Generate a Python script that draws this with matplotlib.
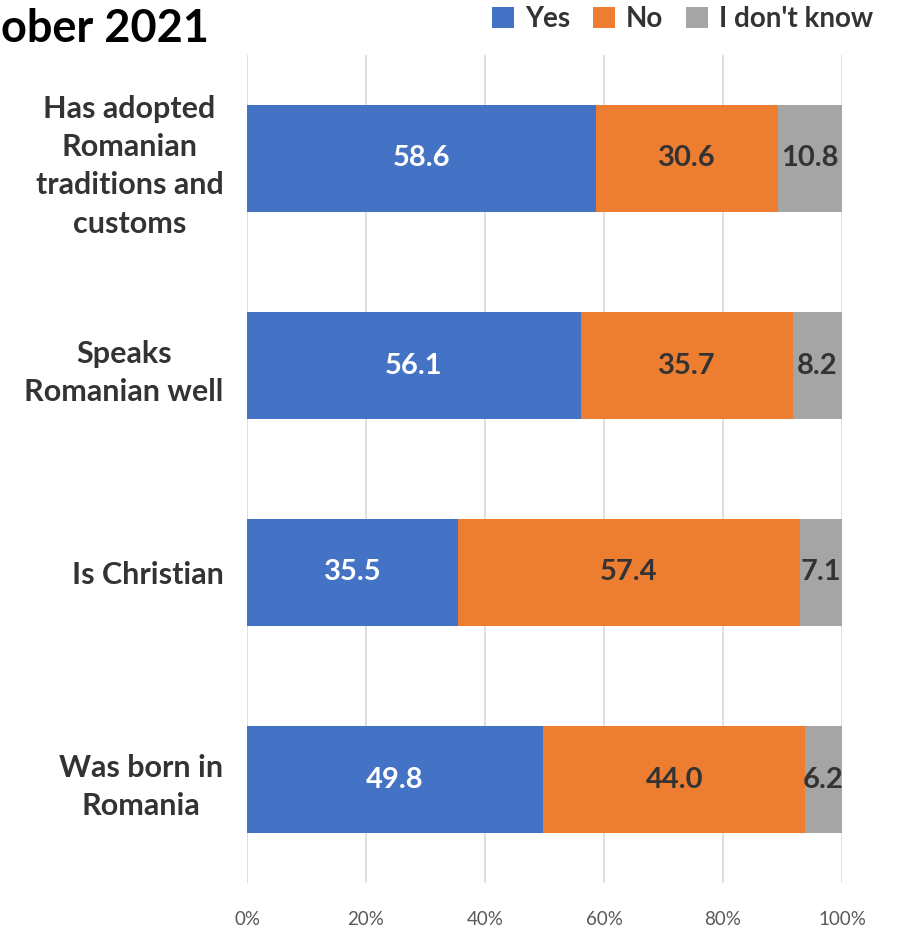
import matplotlib
matplotlib.use('Agg')
import matplotlib.pyplot as plt
from matplotlib.patches import Patch

# data
categories = ['Has adopted\nRomanian\ntraditions and\ncustoms',
              'Speaks\nRomanian well',
              'Is Christian',
              'Was born in\nRomania']
yes = [58.6, 56.1, 35.5, 49.8]
no = [30.6, 35.7, 57.4, 44.0]
dont_know = [10.8, 8.2, 7.1, 6.2]
series_names = ['Yes', 'No', "I don't know"]
colors = ['#4472C4', '#ED7D31', '#A5A5A5']

plt.rcParams['font.family'] = ['Lato', 'DejaVu Sans']
txt = '#333333'

fig = plt.figure(figsize=(9.02, 9.27), dpi=100)
ax = fig.add_axes([247/902, 44/927, (842-247)/902, (883-55)/927])

y = list(range(len(categories)))
h = 0.52
left = [0]*len(y)
for vals, name, c in zip([yes, no, dont_know], series_names, colors):
    bars = ax.barh(y, vals, left=left, height=h, color=c, label=name, zorder=3)
    lc = 'white' if name == 'Yes' else txt
    ax.bar_label(bars, labels=['%.1f' % v for v in vals], label_type='center',
                 color=lc, fontsize=21, fontweight='bold')
    left = [a+b for a, b in zip(left, vals)]

ax.set_xlim(0, 100)
ax.set_ylim(3.5, -0.5)
ax.set_xticks([0, 20, 40, 60, 80, 100])
ax.set_xticklabels(['0%', '20%', '40%', '60%', '80%', '100%'], fontsize=13.5, color='#595959')
ax.set_yticks(y)
ax.set_yticklabels(categories, fontsize=22, fontweight='bold', color=txt,
                   multialignment='center', linespacing=1.45)
ax.grid(axis='x', color='#D9D9D9', linewidth=1.2, zorder=0)
for s in ax.spines.values():
    s.set_visible(False)
ax.tick_params(axis='both', length=0)
ax.tick_params(axis='y', pad=17)
ax.tick_params(axis='x', pad=20)

fig.text(1/902, 1-42/927, 'ober 2021', ha='left', va='baseline',
         fontsize=32.5, fontweight='bold', color='black')

handles = [Patch(facecolor=c, label=n) for c, n in zip(colors, series_names)]
fig.legend(handles=handles, loc='upper right', bbox_to_anchor=(898/902, 1.02), ncol=3,
           frameon=False, handlelength=0.8, handleheight=0.8, handletextpad=0.4,
           columnspacing=0.8, prop={'size': 20, 'weight': 'bold'}, labelcolor=txt)

fig.savefig('out.png', dpi=100)
